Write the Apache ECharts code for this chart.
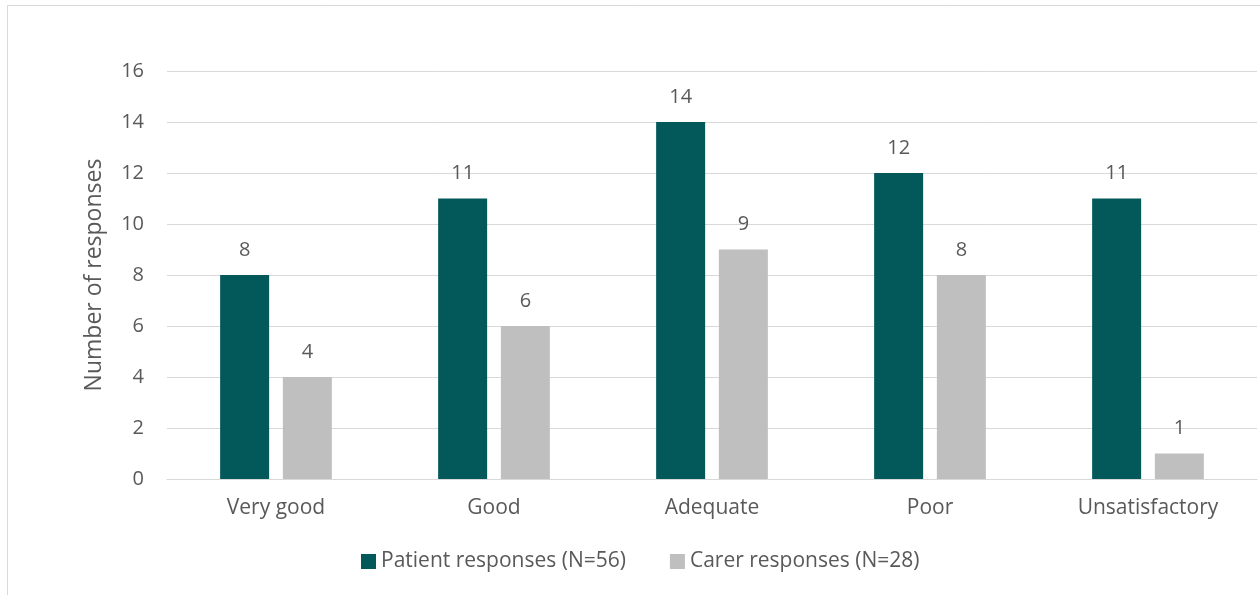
<!DOCTYPE html>
<html>
<head>
<meta charset="utf-8">
<style>
  html, body { margin: 0; padding: 0; background: #ffffff; }
  #chart { width: 1260px; height: 595px; }
</style>
<script src="https://cdn.jsdelivr.net/npm/echarts@6/dist/echarts.min.js"></script>
</head>
<body>
<div id="chart"></div>
<script>
// Response categories and counts per group
const categories = ['Very good', 'Good', 'Adequate', 'Poor', 'Unsatisfactory'];
const patientResponses = [8, 11, 14, 12, 11];
const carerResponses = [4, 6, 9, 8, 1];
const seriesNames = ['Patient responses (N=56)', 'Carer responses (N=28)'];
const axisTitle = 'Number of responses';

const FONT = '"Open Sans", "Liberation Sans", sans-serif';
const TEXT = '#595959';

const chart = echarts.init(document.getElementById('chart'), null, { renderer: 'canvas' });

const labelStyle = {
  show: true,
  position: 'top',
  distance: 15,
  color: TEXT,
  fontFamily: FONT,
  fontSize: 20
};

chart.setOption({
  animation: false,
  backgroundColor: '#ffffff',
  graphic: [{
    type: 'rect',
    shape: { x: 7.5, y: 5.5, width: 1300, height: 700 },
    style: { fill: 'none', stroke: '#D9D9D9', lineWidth: 1 },
    silent: true
  }],
  grid: { left: 167, right: 3, top: 71, bottom: 116, containLabel: false },
  legend: {
    top: 551,
    left: 361,
    padding: 0,
    itemWidth: 15,
    itemHeight: 15,
    itemGap: 44,
    icon: 'rect',
    textStyle: { color: TEXT, fontFamily: FONT, fontSize: 21 },
    data: seriesNames
  },
  xAxis: {
    type: 'category',
    data: categories,
    axisLine: { lineStyle: { color: '#D9D9D9', width: 1 } },
    axisTick: { show: false },
    axisLabel: { color: TEXT, fontFamily: FONT, fontSize: 21, margin: 19 }
  },
  yAxis: {
    type: 'value',
    min: 0,
    max: 16,
    interval: 2,
    name: axisTitle,
    nameLocation: 'middle',
    nameGap: 61,
    nameRotate: 90,
    nameTextStyle: { color: TEXT, fontFamily: FONT, fontSize: 23 },
    axisLine: { show: false },
    axisTick: { show: false },
    axisLabel: { color: TEXT, fontFamily: FONT, fontSize: 20, margin: 23 },
    splitLine: { lineStyle: { color: '#D9D9D9', width: 1 } }
  },
  series: [
    {
      name: seriesNames[0],
      type: 'bar',
      data: patientResponses,
      barWidth: 49,
      barGap: '28%',
      itemStyle: { color: '#03585A' },
      label: labelStyle
    },
    {
      name: seriesNames[1],
      type: 'bar',
      data: carerResponses,
      barWidth: 49,
      barGap: '28%',
      itemStyle: { color: '#BFBFBF' },
      label: labelStyle
    }
  ]
});
</script>
</body>
</html>
